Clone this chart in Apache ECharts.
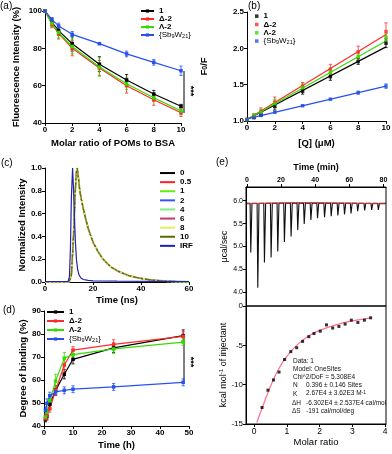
<!DOCTYPE html>
<html>
<head>
<meta charset="utf-8">
<script src="https://cdn.jsdelivr.net/npm/echarts@6/dist/echarts.min.js"></script>
<style>
html, body { margin: 0; padding: 0; background: #fff; }
#chart { width: 392px; height: 454px; }
</style>
</head>
<body>
<div id="chart"></div>
<script>
var FONT = '"Liberation Sans", Arial, sans-serif';

// (a) fluorescence intensity vs molar ratio
var aRatio = [0, 0.5, 1, 2, 4, 6, 8, 10];
var a1 = [100, 94, 89.5, 82.5, 71.5, 63, 55.5, 49];
var a1Err = [0, 2, 2.5, 4, 4, 3, 2, 1];
var aDelta = [100, 93, 88, 80, 69.5, 60, 52.5, 45.5];
var aDeltaErr = [0, 2, 3, 4, 4, 4, 3, 2];
var aLambda = [100, 93.5, 88.5, 81, 70, 61, 53.5, 46.5];
var aLambdaErr = [0, 2, 3, 4, 5, 3, 2, 2];
var aSb = [100, 95.5, 92, 87.5, 82.5, 77, 72.5, 68];
var aSbErr = [0, 1, 1.5, 1.5, 0.5, 1.5, 1.5, 2.5];

// (b) Stern-Volmer
var bQ = [0, 0.5, 1, 2, 4, 6, 8, 10];
var b1 = [1.02, 1.05, 1.09, 1.20, 1.41, 1.61, 1.82, 2.07];
var b1Err = [0, 0.02, 0.03, 0.05, 0.04, 0.05, 0.04, 0.06];
var bDelta = [1.02, 1.07, 1.13, 1.26, 1.48, 1.71, 1.95, 2.23];
var bDeltaErr = [0, 0.03, 0.05, 0.07, 0.05, 0.07, 0.08, 0.12];
var bLambda = [1.02, 1.07, 1.12, 1.24, 1.46, 1.67, 1.89, 2.15];
var bLambdaErr = [0, 0.03, 0.04, 0.06, 0.05, 0.06, 0.06, 0.05];
var bSb = [1.02, 1.05, 1.08, 1.12, 1.21, 1.30, 1.39, 1.48];
var bSbErr = [0, 0.01, 0.01, 0.01, 0.01, 0.01, 0.02, 0.03];
var bFitQ = [0, 10];
var bFit1 = [1.02, 2.02];
var bFitDelta = [1.02, 2.19];
var bFitLambda = [1.02, 2.10];
var bFitSb = [1.03, 1.48];

// (c) fluorescence decay
var cTime = [0, 10, 11, 12, 12.5, 13, 13.4, 14, 14.5, 15, 16, 17, 18, 19, 20, 22, 24, 26, 28, 30, 32, 35, 38, 41, 45, 50, 55, 60];
var cDecay = [0, 0, 0.06, 0.45, 0.75, 0.95, 1.0, 0.9, 0.8, 0.74, 0.64, 0.55, 0.47, 0.41, 0.35, 0.27, 0.205, 0.16, 0.125, 0.1, 0.08, 0.055, 0.04, 0.028, 0.016, 0.008, 0.004, 0.002];
var irfTime = [0, 9.6, 10.2, 10.6, 11.0, 11.5, 11.9, 12.3, 12.7, 13.1, 13.6, 14.2, 15, 16, 18, 20, 30, 45, 60];
var irfVal = [0.004, 0.004, 0.05, 0.3, 0.75, 1.0, 0.8, 0.55, 0.34, 0.2, 0.11, 0.06, 0.035, 0.022, 0.014, 0.01, 0.007, 0.005, 0.004];
var cRatios = ['0', '0.5', '1', '2', '4', '6', '8', '10'];

// (d) degree of binding vs time
var dTime = [0.5, 1, 2, 4, 7, 10, 24, 48];
var d1 = [42.8, 44.2, 49.5, 55.5, 62.5, 69, 74, 79.3];
var d1Err = [1, 1.5, 2, 2, 2, 2, 2, 2.5];
var dDelta = [43.2, 44.6, 47.5, 55.5, 66.5, 73, 75.5, 79];
var dDeltaErr = [1, 1.5, 1.5, 2, 3, 1.5, 2, 2];
var dLambda = [43.9, 46, 51, 59.5, 69.5, 71, 73.5, 76.5];
var dLambdaErr = [1, 1.5, 2, 3, 2.5, 2, 2, 1.5];
var dSb = [46.8, 49.8, 53.2, 54.8, 55.5, 56, 57, 59];
var dSbErr = [1.5, 2, 1.5, 1.5, 1.5, 1.5, 1.5, 1.5];

// (e) ITC raw heat and integrated heats
var eInjTime = [2.3, 6.4, 10.3, 14.2, 18.1, 22.0, 25.9, 29.8, 33.6, 37.5, 41.4, 45.5, 49.4, 53.3, 57.2, 61.0, 64.9, 69.0, 73.1, 77.0];
var eInjMin = [4.87, 4.1, 4.65, 4.76, 4.89, 5.1, 5.22, 5.36, 5.49, 5.58, 5.62, 5.64, 5.66, 5.68, 5.70, 5.72, 5.77, 5.79, 5.80, 5.80];
var eTraceBase = 5.945;
var eBaseTime = [0, 10, 20, 30, 40, 50, 60, 70, 81];
var eBaseVal = [5.93, 5.945, 5.955, 5.96, 5.96, 5.955, 5.95, 5.94, 5.93];
var eMolar = [0.24, 0.42, 0.59, 0.76, 0.93, 1.12, 1.30, 1.48, 1.67, 1.83, 2.02, 2.21, 2.40, 2.59, 2.78, 2.97, 3.17, 3.37, 3.56];
var eHeat = [-12.9, -10.7, -9.4, -8.4, -6.8, -5.8, -5.3, -4.5, -3.9, -3.5, -3.2, -2.4, -2.8, -2.6, -2.3, -1.8, -2.1, -1.8, -1.5];
var eFitMolar = [0.08, 0.25, 0.5, 0.75, 1.0, 1.25, 1.5, 1.75, 2.0, 2.5, 3.0, 3.56];
var eFitHeat = [-14.8, -12.9, -10.2, -8.0, -6.4, -5.2, -4.3, -3.6, -3.1, -2.4, -1.9, -1.5];

var C_1 = '#000000', C_D = '#ff2a2a', C_L = '#33dd00', C_S = '#2850f0';
var cColors = ['#000000', '#ff2020', '#66ee00', '#3355ff', '#80ee80', '#cc3366', '#e0ee60', '#5a6a00'];

function xy(xs, ys) { return xs.map(function (x, i) { return [x, ys[i]]; }); }
function xye(xs, ys, es) { return xs.map(function (x, i) { return [x, ys[i], es[i]]; }); }

function lineSer(name, g, xs, ys, color) {
  return {
    type: 'line', name: name, xAxisIndex: g, yAxisIndex: g, data: xy(xs, ys),
    symbol: 'rect', symbolSize: 3.5, itemStyle: { color: color },
    lineStyle: { color: color, width: 1.2 }, z: 3
  };
}

function errSer(g, xs, ys, es, color) {
  return {
    type: 'custom', xAxisIndex: g, yAxisIndex: g, silent: true, z: 2,
    data: xye(xs, ys, es), encode: { x: 0, y: 1 },
    renderItem: function (params, api) {
      var x = api.value(0), y = api.value(1), e = api.value(2);
      if (!e) return { type: 'group', children: [] };
      var hi = api.coord([x, y + e]), lo = api.coord([x, y - e]), w = 1.6;
      function seg(x1, y1, x2, y2) {
        return { type: 'line', shape: { x1: x1, y1: y1, x2: x2, y2: y2 }, style: { stroke: color, lineWidth: 0.8 } };
      }
      return { type: 'group', children: [
        seg(hi[0], hi[1], lo[0], lo[1]),
        seg(hi[0] - w, hi[1], hi[0] + w, hi[1]),
        seg(lo[0] - w, lo[1], lo[0] + w, lo[1])
      ] };
    }
  };
}

function axis(g, min, max, interval, name, gap, bold) {
  var wt = bold === false ? 'normal' : 'bold';
  var a = {
    type: 'value', gridIndex: g, min: min, max: max,
    axisLine: { show: true, onZero: false, lineStyle: { color: '#000', width: 1 } },
    axisTick: { show: true, length: 3, lineStyle: { color: '#000', width: 1 } },
    axisLabel: { color: '#000', fontFamily: FONT, fontSize: 8, fontWeight: wt, margin: 3 },
    splitLine: { show: false },
    name: name, nameLocation: 'middle', nameGap: gap,
    nameTextStyle: { color: '#000', fontFamily: FONT, fontSize: 9.5, fontWeight: wt }
  };
  if (interval != null) a.interval = interval;
  return a;
}

var SB = '{Sb{s|9}W{s|21}}';
var labels = {
  a1: '{b|1}', aD: '{b|Δ-2}', aL: '{b|Λ-2}', aS: SB,
  b1: '{b|1}', bD: '{b|Δ-2}', bL: '{b|Λ-2}', bS: SB,
  d1: '{b|1}', dD: '{b|Δ-2}', dL: '{b|Λ-2}', dS: SB,
  cIRF: '{b|IRF}'
};
cRatios.forEach(function (r) { labels['c' + r] = '{b|' + r + '}'; });

function legend(data, left, top, iw, ih, lh, icon) {
  var l = {
    data: data, left: left, top: top, orient: 'vertical', padding: 0,
    itemWidth: iw, itemHeight: ih, itemGap: 0, selectedMode: false,
    formatter: function (n) { return labels[n]; },
    textStyle: {
      fontFamily: FONT, fontSize: 8, color: '#000', lineHeight: lh,
      rich: {
        b: { fontWeight: 'bold', fontSize: 8, lineHeight: lh },
        s: { fontSize: 5.5, verticalAlign: 'bottom', lineHeight: lh }
      }
    }
  };
  if (icon) l.icon = icon;
  return l;
}

var grids = [
  { left: 45, top: 11, width: 136, height: 112 },
  { left: 247, top: 12, width: 139, height: 109 },
  { left: 45, top: 168, width: 144, height: 114 },
  { left: 44, top: 311, width: 145, height: 115 },
  { left: 246, top: 187, width: 140, height: 119, show: true, borderColor: '#000', borderWidth: 1, backgroundColor: 'transparent' },
  { left: 246, top: 306, width: 140, height: 118, show: true, borderColor: '#000', borderWidth: 1, backgroundColor: 'transparent' }
];
grids.forEach(function (g) { g.outerBoundsMode = 'none'; g.containLabel = false; });

var fix1 = function (v) { return v.toFixed(1); };

var xAxes = [
  axis(0, 0, 10, 2, 'Molar ratio of POMs to BSA', 15),
  axis(1, 0, 10, 2, '[Q] (μM)', 17),
  axis(2, 0, 60, 20, 'Time (ns)', 13),
  axis(3, 0, 50, 10, 'Time (h)', 14),
  axis(4, -0.5, 81.5, null, 'Time (min)', 15),
  axis(5, -0.25, 4.03, null, 'Molar ratio', 13, false)
];
var yAxes = [
  axis(0, 40, 100, 20, 'Fluorescence Intensity (%)', 24),
  axis(1, 1.0, 2.5, 0.5, 'F{s|0}/F', 38),
  axis(2, 0, 1, 0.2, 'Normalized Intensity', 18),
  axis(3, 40, 90, 10, 'Degree of binding (%)', 15),
  axis(4, 3.7, 6.3, null, 'μcal/sec', 13, false),
  axis(5, -15, 0, 5, 'kcal mol{sup|-1} of injectant', 15, false)
];
yAxes[1].axisLabel.formatter = fix1;
yAxes[1].nameTextStyle.rich = { s: { fontSize: 7, fontWeight: 'bold', verticalAlign: 'bottom' } };
yAxes[2].axisLabel.formatter = fix1;

// (e) top: box with time axis on top
xAxes[4].position = 'top';
xAxes[4].axisLabel.customValues = [0, 20, 40, 60, 80];
xAxes[4].axisTick.customValues = [0, 20, 40, 60, 80];
xAxes[4].axisLabel.fontSize = 7;
xAxes[4].nameTextStyle.fontSize = 9;
yAxes[4].axisLabel.customValues = [4, 4.5, 5, 5.5, 6];
yAxes[4].axisTick.customValues = [4, 4.5, 5, 5.5, 6];
yAxes[4].axisLabel.formatter = fix1;
yAxes[4].axisLabel.fontSize = 7;
yAxes[4].nameTextStyle.fontSize = 8.5;
xAxes[5].axisLabel.customValues = [0, 1, 2, 3, 4];
xAxes[5].axisTick.customValues = [0, 1, 2, 3, 4];
xAxes[5].axisLabel.fontSize = 8.5;
yAxes[5].nameTextStyle.fontSize = 9;
yAxes[5].nameTextStyle.rich = { sup: { fontSize: 6, verticalAlign: 'top' } };

var series = [];
// (a)
[['a1', a1, a1Err, C_1], ['aD', aDelta, aDeltaErr, C_D], ['aL', aLambda, aLambdaErr, C_L], ['aS', aSb, aSbErr, C_S]].forEach(function (s) {
  series.push(errSer(0, aRatio, s[1], s[2], s[3]));
  series.push(lineSer(s[0], 0, aRatio, s[1], s[3]));
});
// (b)
[['b1', b1, b1Err, bFit1, C_1], ['bD', bDelta, bDeltaErr, bFitDelta, C_D], ['bL', bLambda, bLambdaErr, bFitLambda, C_L], ['bS', bSb, bSbErr, bFitSb, C_S]].forEach(function (s) {
  series.push(errSer(1, bQ, s[1], s[2], s[4]));
  series.push({ type: 'line', xAxisIndex: 1, yAxisIndex: 1, data: xy(bFitQ, s[3]), symbol: 'none', lineStyle: { color: s[4], width: 1.2 }, z: 2, silent: true });
  series.push({ type: 'scatter', name: s[0], xAxisIndex: 1, yAxisIndex: 1, data: xy(bQ, s[1]), symbol: 'rect', symbolSize: 3.5, itemStyle: { color: s[4] }, z: 3 });
});
// (c)
var cOrder = [0, 1, 3, 5, 4, 6, 7, 2];
cOrder.forEach(function (i) {
  var ls = { color: cColors[i], width: 1.2 };
  if (i === 4) ls.width = 2;
  if (i === 6) { ls.width = 2; ls.type = 'dotted'; }
  if (i === 7) { ls.type = 'dashed'; ls.width = 1; }
  if (i === 2) { ls.width = 1; ls.opacity = 0.8; }
  series.push({ type: 'line', name: 'c' + cRatios[i], xAxisIndex: 2, yAxisIndex: 2, data: xy(cTime, cDecay), symbol: 'none', itemStyle: { color: cColors[i] }, lineStyle: ls, z: 3 + i * 0.1 });
});
series.push({ type: 'line', name: 'cIRF', xAxisIndex: 2, yAxisIndex: 2, data: xy(irfTime, irfVal), symbol: 'none', itemStyle: { color: '#2222aa' }, lineStyle: { color: '#2222aa', width: 1.2 }, z: 4 });
// (d)
[['d1', d1, d1Err, C_1], ['dD', dDelta, dDeltaErr, C_D], ['dL', dLambda, dLambdaErr, C_L], ['dS', dSb, dSbErr, C_S]].forEach(function (s) {
  series.push(errSer(3, dTime, s[1], s[2], s[3]));
  series.push(lineSer(s[0], 3, dTime, s[1], s[3]));
});
// (e) raw trace: each injection drops from the baseline to its minimum and recovers
var trace = [[-0.5, eTraceBase]];
eInjTime.forEach(function (t, i) {
  trace.push([t - 0.4, eTraceBase], [t, eInjMin[i]], [t + 0.7, eTraceBase]);
});
trace.push([81.5, eTraceBase]);
series.push({ type: 'line', xAxisIndex: 4, yAxisIndex: 4, data: trace, symbol: 'none', lineStyle: { color: '#111', width: 1.1 }, z: 2, silent: true });
series.push({ type: 'line', xAxisIndex: 4, yAxisIndex: 4, data: xy(eBaseTime, eBaseVal), symbol: 'none', smooth: true, lineStyle: { color: '#e03040', width: 1 }, z: 3, silent: true });
series.push({ type: 'line', xAxisIndex: 5, yAxisIndex: 5, data: xy(eFitMolar, eFitHeat), symbol: 'none', smooth: true, lineStyle: { color: '#ff7090', width: 1.2 }, z: 2, silent: true });
series.push({ type: 'scatter', xAxisIndex: 5, yAxisIndex: 5, data: xy(eMolar, eHeat), symbol: 'rect', symbolSize: 3, itemStyle: { color: '#000' }, z: 3 });

function txt(x, y, s, o) {
  var st = { text: s, fontFamily: FONT, fontSize: 10, fill: '#000' };
  for (var k in (o || {})) st[k] = o[k];
  return { type: 'text', x: x, y: y, style: st, silent: true };
}
function vline(x, y1, y2) {
  return { type: 'line', shape: { x1: x, y1: y1, x2: x, y2: y2 }, style: { stroke: '#000', lineWidth: 1 }, silent: true };
}
function stars(x, y) {
  return { type: 'text', x: x, y: y, rotation: -Math.PI / 2, style: { text: '***', fontFamily: FONT, fontSize: 9, fontWeight: 'bold', fill: '#000', align: 'center', verticalAlign: 'middle' }, silent: true };
}

var ann = { fontSize: 6.5, fill: '#111' };
var graphic = [
  txt(0, 1, '(a)'), txt(248, 1, '(b)'), txt(1, 158, '(c)'), txt(3, 305, '(d)'), txt(216, 157, '(e)'),
  vline(184, 71, 113), stars(190, 91),
  vline(184, 336, 381), stars(190, 362),
  txt(293, 358, 'Data: 1', ann),
  txt(293, 366, 'Model: OneSites', ann),
  txt(293, 374, 'Chi^2/DoF = 5.308E4', ann),
  txt(293, 382, 'N', ann), txt(306, 382, '0.396 ± 0.146 Sites', ann),
  txt(293, 391, 'K', ann),
  { type: 'text', x: 306, y: 390, silent: true, style: { text: '2.67E4 ± 3.62E3 M{sup|-1}', fontFamily: FONT, fontSize: 6.5, fill: '#111', rich: { sup: { fontSize: 5, verticalAlign: 'top' } } } },
  txt(292, 400, 'ΔH', ann), txt(306, 400, '-6.302E4 ± 2.537E4 cal/mol', ann),
  txt(292, 408, 'ΔS', ann), txt(306, 408, '-191 cal/mol/deg', ann)
];

var chart = echarts.init(document.getElementById('chart'), null, { renderer: 'canvas' });
chart.setOption({
  animation: false,
  backgroundColor: '#fff',
  textStyle: { fontFamily: FONT },
  grid: grids,
  xAxis: xAxes,
  yAxis: yAxes,
  legend: [
    legend(['a1', 'aD', 'aL', 'aS'], 140, 7, 13, 4, 8),
    legend(['b1', 'bD', 'bL', 'bS'], 255, 12, 3.5, 3.5, 8.3),
    legend(cRatios.map(function (r) { return 'c' + r; }).concat(['cIRF']), 160, 168.5, 15, 2, 9.1, 'rect'),
    legend(['d1', 'dD', 'dL', 'dS'], 46, 307.5, 17, 4, 9)
  ],
  series: series,
  graphic: graphic
});
</script>
</body>
</html>
